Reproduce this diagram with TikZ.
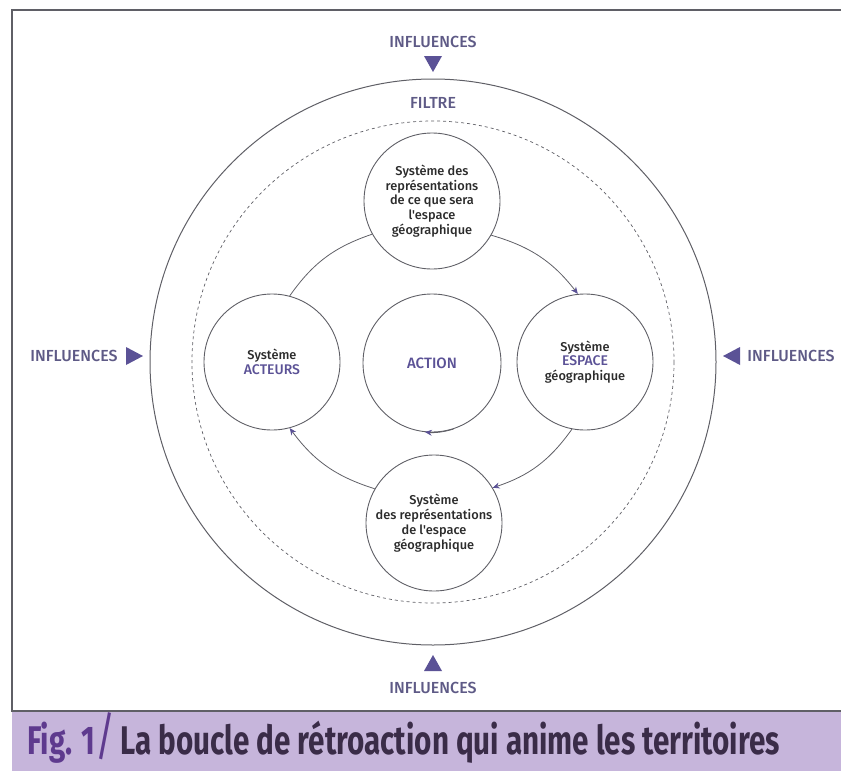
\documentclass[tikz,border=0pt]{standalone}
\usepackage{fontspec}
\setmainfont{Fira Sans}
\newfontfamily\medfont{Fira Sans Medium}
\usetikzlibrary{arrows.meta}
\definecolor{vio}{HTML}{5B5296}
\definecolor{inflc}{HTML}{5E5A86}
\definecolor{band}{HTML}{C6B5DB}
\definecolor{figc}{HTML}{5E3A8E}
\definecolor{titc}{HTML}{3A2C48}
\definecolor{linec}{HTML}{5F5F66}
\definecolor{txtc}{HTML}{2B2B2B}
\tikzset{
  sys/.style={circle, draw=linec, line width=0.9pt, minimum size=136pt, inner sep=0pt, align=center, font=\medfont\fontsize{12.8}{14.8}\selectfont, text=txtc},
  infl/.style={font=\medfont\fontsize{16}{18}\selectfont, text=inflc},
  tri/.style={fill=vio, draw=none},
  loop/.style={draw=linec, line width=0.8pt},
  looparr/.style={loop, -{Stealth[length=7pt,width=6pt,color=vio]}},
}
\begin{document}
\begin{tikzpicture}[x=1pt,y=-1pt]
\useasboundingbox (0,0) rectangle (841,771);
% frame and band
\fill[band] (12,711) rectangle (841,771);
\draw[linec, line width=1.2pt] (841,10) -- (12,10) -- (12,711) -- (841,711);
\node[anchor=base west, inner sep=0pt] (title) at (27,754)
  {\scalebox{0.74}[1]{\fontsize{40}{44}\selectfont\bfseries\textcolor{figc}{Fig. 1}\textcolor{figc}{\fontsize{52}{52}\selectfont\mdseries/}\,\textcolor{titc}{La boucle de rétroaction qui anime les territoires}}};
% big circles
\coordinate (C) at (433,362);
\draw[linec, line width=1pt] (C) circle[radius=283];
\draw[linec, line width=0.7pt, dash pattern=on 3pt off 3pt] (C) circle[radius=241];
\node[infl] (filtre) at (433,103) {FILTRE};
% influences
\node[infl] (itop) at (433,42) {INFLUENCES};
\fill[tri] (424,56) -- (442,56) -- (433,72) -- cycle;
\node[infl] (ibot) at (433,688) {INFLUENCES};
\fill[tri] (424,671) -- (442,671) -- (433,655) -- cycle;
\node[infl] (ileft) at (74,356) {INFLUENCES};
\fill[tri] (126,347) -- (126,365) -- (143,356) -- cycle;
\node[infl] (iright) at (791,356) {INFLUENCES};
\fill[tri] (740,347) -- (740,365) -- (723,356) -- cycle;
% system circles
\node[sys] (T) at (432,201) {Système des\\représentations\\de ce que sera\\l'espace\\géographique};
\node[sys] (L) at (272,362) {Système\\\textcolor{vio}{\fontsize{14}{15}\selectfont ACTEURS}};
\node[sys] (R) at (585,362) {Système\\\textcolor{vio}{\fontsize{14}{15}\selectfont ESPACE}\\géographique};
\node[sys] (B) at (434,523) {Système\\des représentations\\de l'espace\\géographique};
\node[sys, minimum size=138pt, font=\medfont\fontsize{15}{17}\selectfont, text=vio] (A) at (432,363) {ACTION};
% loop
\draw[loop] (L.75) to[bend left=18] (T.209);
\draw[looparr] (T.330) to[bend left=18] (R.96);
\draw[looparr] (R.259) to[bend left=18] (B.31);
\draw[looparr] (B.150) to[bend left=18] (L.285);
\draw[looparr] (A.-72) arc[start angle=72, end angle=96, radius=69];
\end{tikzpicture}
\end{document}
